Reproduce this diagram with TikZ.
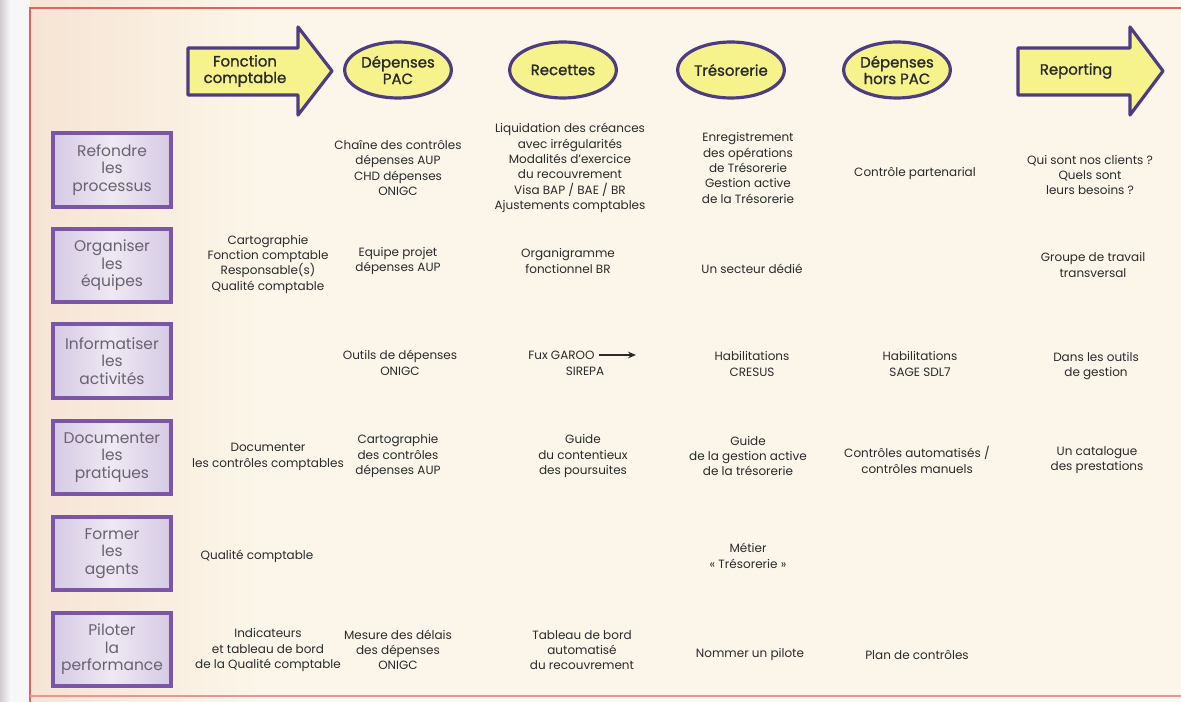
\documentclass[tikz,border=0pt]{standalone}
\usepackage{fontspec}
\setmainfont{Poppins}
\newfontfamily\hdrfont[FakeBold=1.2]{Poppins}
\usetikzlibrary{arrows.meta,shapes.geometric}
\definecolor{cream}{HTML}{FBF6E9}
\definecolor{peach}{HTML}{F6E2D2}
\definecolor{strip}{HTML}{CFCBCF}
\definecolor{redline}{HTML}{E2625E}
\definecolor{hfill}{HTML}{F6F28C}
\definecolor{hdraw}{HTML}{4E3C82}
\definecolor{bdraw}{HTML}{7A55A8}
\definecolor{bfill}{HTML}{EEE9F3}
\definecolor{bside}{HTML}{D6CAE4}
\definecolor{btext}{HTML}{6A6274}
\definecolor{ctext}{HTML}{2A2A2C}
\tikzset{
  hdrshape/.style={fill=hfill, draw=hdraw, line width=2.4pt, line join=round},
  hdrtext/.style={font=\hdrfont\fontsize{11.2}{12.4}\selectfont, text=ctext, align=center, inner sep=0pt},
  hdrell/.style={ellipse, hdrshape, minimum width=80pt, minimum height=42pt, inner sep=0pt, hdrtext},
  rowbox/.style={draw=bdraw, line width=3pt, left color=bside, right color=bside, middle color=bfill,
     minimum width=88pt, minimum height=55pt, inner sep=0pt, align=center,
     font=\fontsize{11.6}{13.2}\selectfont, text=btext},
  cell/.style={align=center, inner sep=0pt, font=\fontsize{9}{11.5}\selectfont, text=ctext}
}
\begin{document}
\begin{tikzpicture}[x=0.75pt,y=-0.75pt]
\useasboundingbox (0,0) rectangle (1181,702);
\fill[cream] (0,0) rectangle (1181,702);
\shade[left color=peach, right color=cream] (10,0) rectangle (260,702);
\fill[white!85!strip] (9,0) rectangle (30,702);
\shade[left color=strip, right color=white!85!strip] (0,0) rectangle (10,702);
\draw[redline, line width=1pt] (30,702) -- (30,8) -- (1181,8);
\draw[redline!60!peach, line width=0.8pt] (30,696) -- (1181,696);

% header shapes
\draw[hdrshape] (188,48) -- (298,48) -- (298,27) -- (332,71) -- (298,115) -- (298,95) -- (188,95) -- cycle;
\node[hdrtext] (h1) at (245,71) {Fonction\\comptable};
\node[hdrell] (h2) at (398,70) {Dépenses\\PAC};
\node[hdrell] (h3) at (563,70) {Recettes};
\node[hdrell] (h4) at (731,70) {Trésorerie};
\node[hdrell] (h5) at (897,70) {Dépenses\\hors PAC};
\draw[hdrshape] (1018,48) -- (1130,48) -- (1130,27) -- (1163,71) -- (1130,115) -- (1130,95) -- (1018,95) -- cycle;
\node[hdrtext] (h6) at (1076,71) {Reporting};

% row labels
\node[rowbox] (r1) at (112,170) {Refondre\\les\\processus};
\node[rowbox] (r2) at (112,265.5) {Organiser\\les\\équipes};
\node[rowbox] (r3) at (112,361) {Informatiser\\les\\activités};
\node[rowbox] (r4) at (112,457.5) {Documenter\\les\\pratiques};
\node[rowbox] (r5) at (112,553.5) {Former\\les\\agents};
\node[rowbox] (r6) at (112,649.5) {Piloter\\la\\performance};

% row 1
\node[cell] (c12) at (398,168) {Chaîne des contrôles\\dépenses AUP\\CHD dépenses\\ONIGC};
\node[cell] (c13) at (570,168) {Liquidation des créances\\avec irrégularités\\Modalités d’exercice\\du recouvrement\\Visa BAP / BAE / BR\\Ajustements comptables};
\node[cell] (c14) at (748,168) {Enregistrement\\des opérations\\de Trésorerie\\Gestion active\\de la Trésorerie};
\node[cell] (c15) at (915,173) {Contrôle partenarial};
\node[cell] (c16) at (1090,175) {Qui sont nos clients ?\\Quels sont\\leurs besoins ?};

% row 2
\node[cell] (c21) at (268,264) {Cartographie\\Fonction comptable\\Responsable(s)\\Qualité comptable};
\node[cell] (c22) at (398,261) {Equipe projet\\dépenses AUP};
\node[cell] (c23) at (568,261) {Organigramme\\fonctionnel BR};
\node[cell] (c24) at (752,269) {Un secteur dédié};
\node[cell] (c26) at (1093,265) {Groupe de travail\\transversal};

% row 3
\node[cell] (c32) at (400,363) {Outils de dépenses\\ONIGC};
\node[cell, anchor=west] (c33) at (528,355) {Fux GAROO};
\coordinate (c33e) at (636,355);
\draw[ctext, line width=1.4pt, -{Stealth[length=6pt,width=5pt]}] (c33.east) ++(4,0) -- (c33e);
\node[cell] (c33b) at (585,371) {SIREPA};
\node[cell] (c34) at (752,364) {Habilitations\\CRESUS};
\node[cell] (c35) at (920,364) {Habilitations\\SAGE SDL7};
\node[cell] (c36) at (1096,366) {Dans les outils\\de gestion};

% row 4
\node[cell] (c41) at (268,457) {Documenter\\les contrôles comptables};
\node[cell] (c42) at (398,456) {Cartographie\\des contrôles\\dépenses AUP};
\node[cell] (c43) at (583,456) {Guide\\du contentieux\\des poursuites};
\node[cell] (c44) at (748,456) {Guide\\de la gestion active\\de la trésorerie};
\node[cell] (c45) at (917,460) {Contrôles automatisés /\\contrôles manuels};
\node[cell] (c46) at (1097,460) {Un catalogue\\des prestations};

% row 5
\node[cell] (c51) at (257,556) {Qualité comptable};
\node[cell] (c54) at (748,556) {Métier\\« Trésorerie »};

% row 6
\node[cell] (c61) at (268,650) {Indicateurs\\et tableau de bord\\de la Qualité comptable};
\node[cell] (c62) at (398,650) {Mesure des délais\\des dépenses\\ONIGC};
\node[cell] (c63) at (582,650) {Tableau de bord\\automatisé\\du recouvrement};
\node[cell] (c64) at (750,654) {Nommer un pilote};
\node[cell] (c65) at (917,655) {Plan de contrôles};
\end{tikzpicture}
\end{document}
